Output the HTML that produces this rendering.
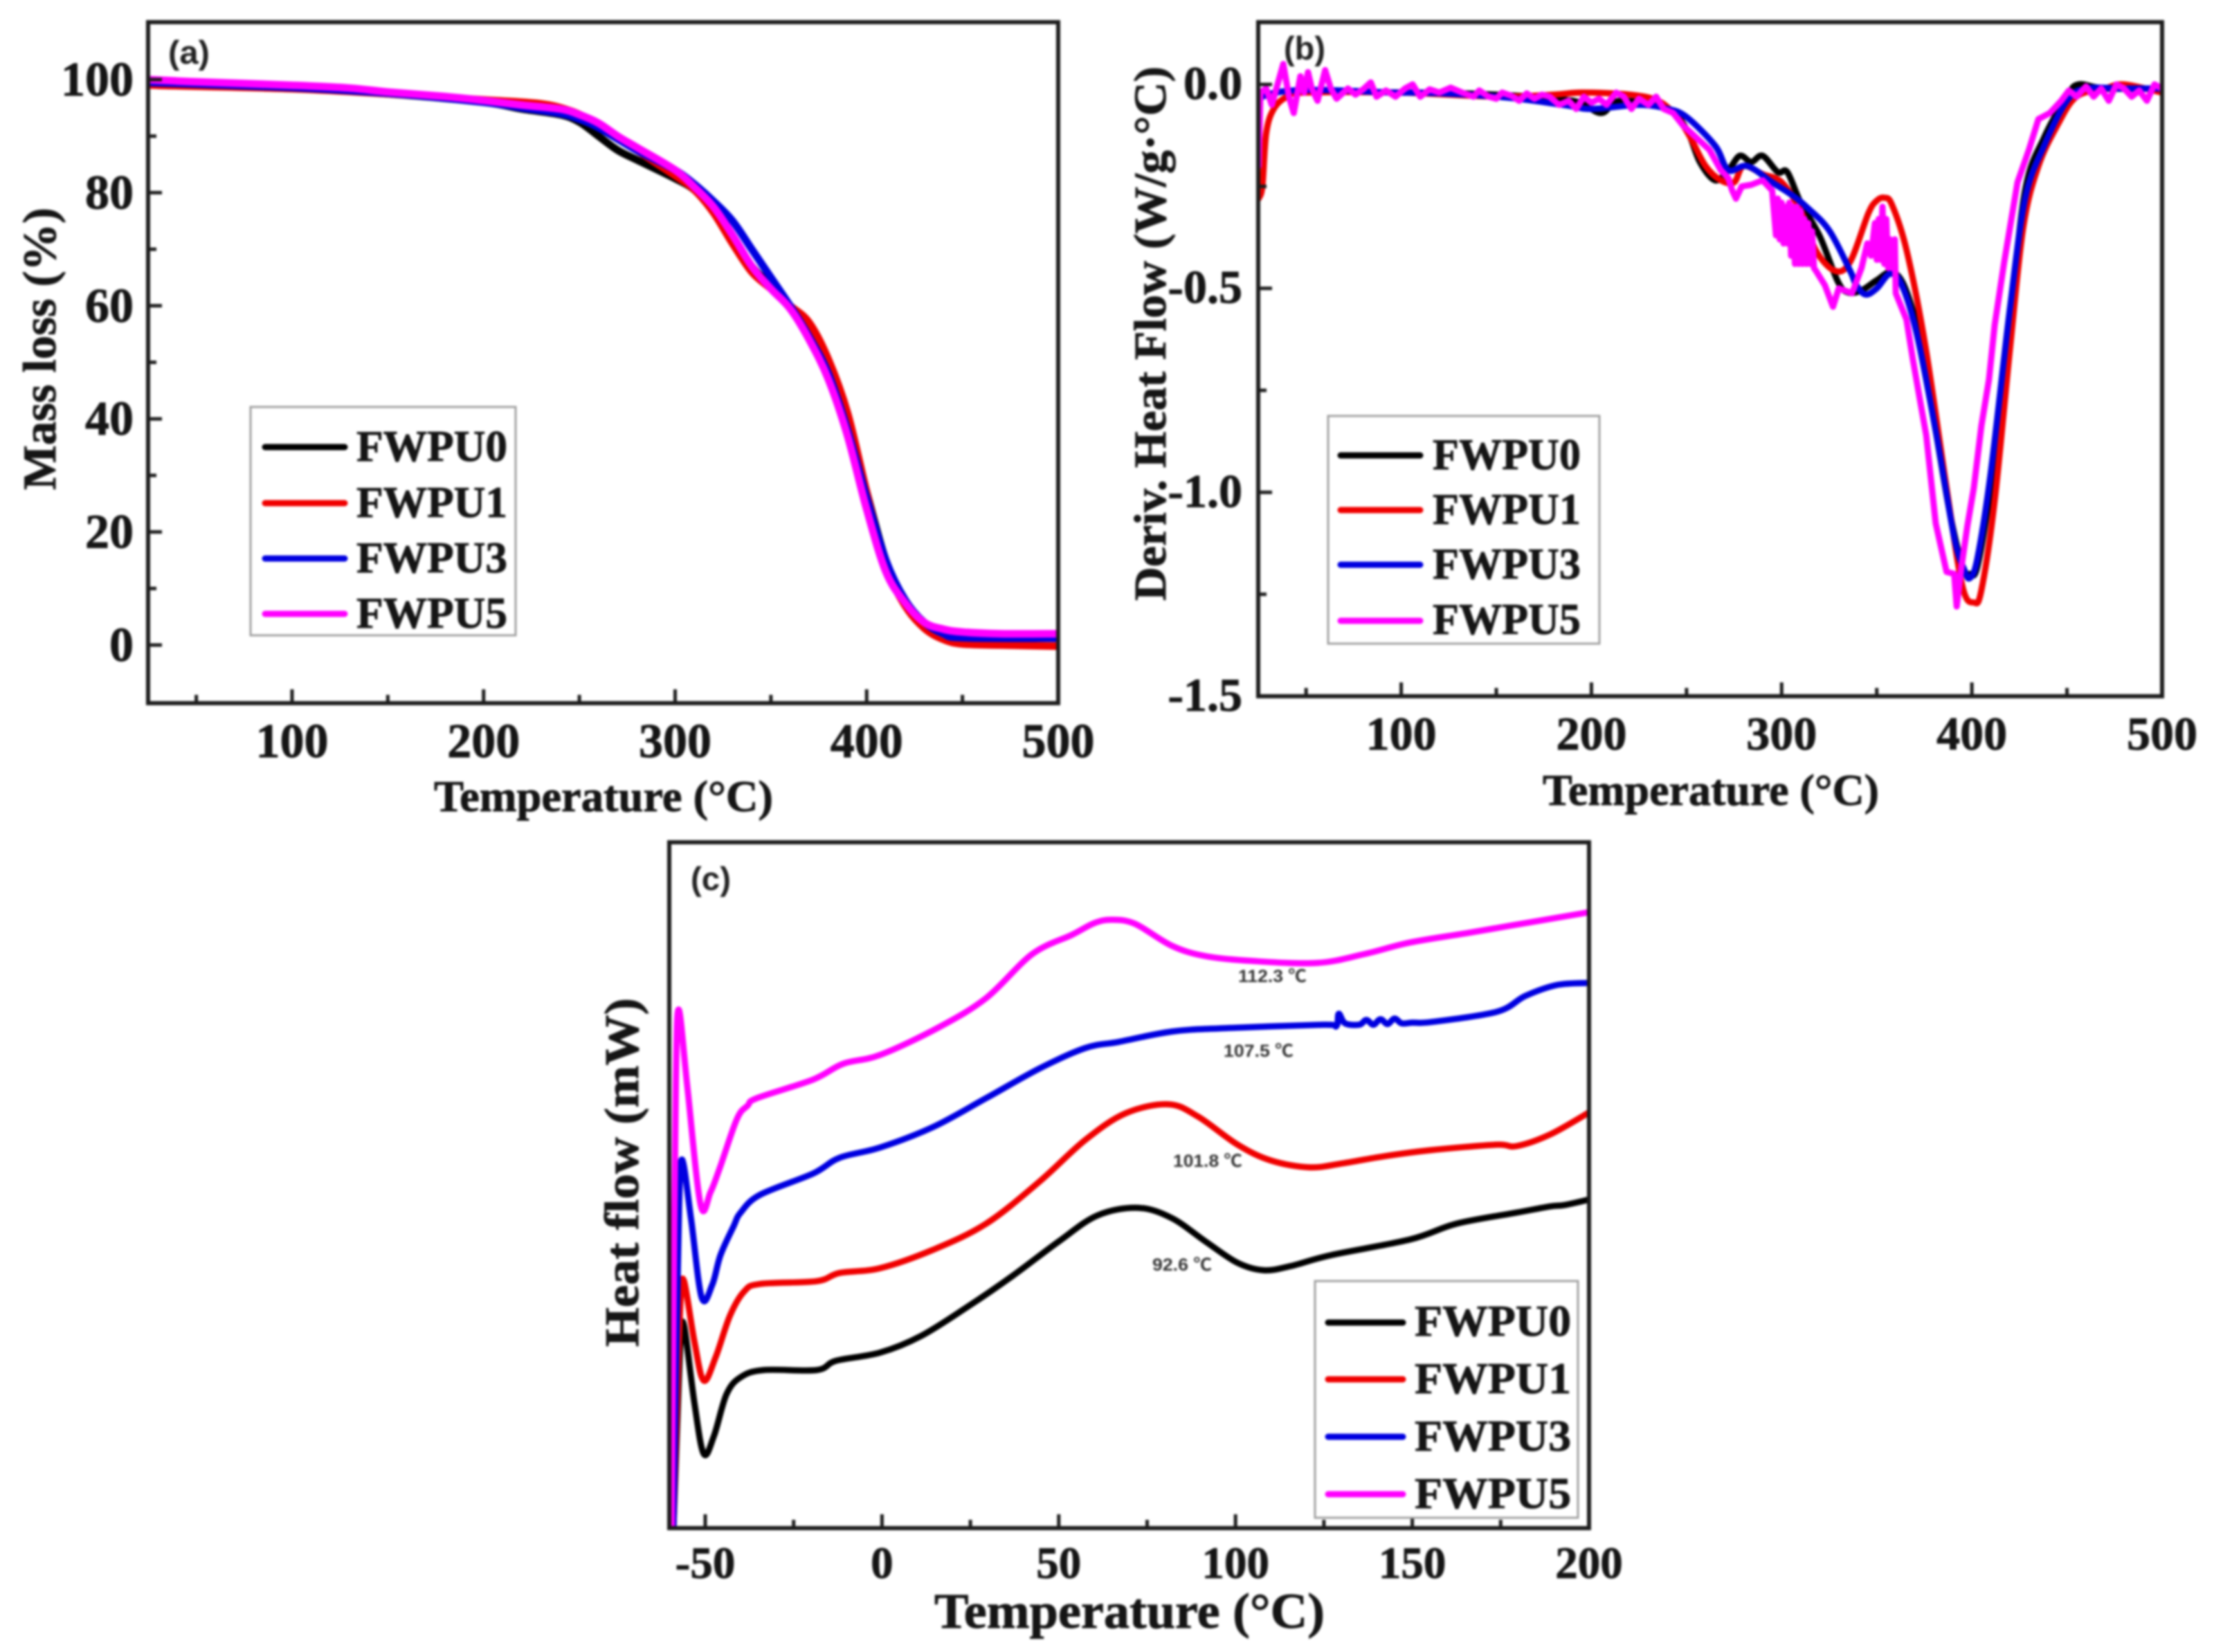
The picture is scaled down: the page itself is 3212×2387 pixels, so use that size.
<!DOCTYPE html>
<html lang="en">
<head>
<meta charset="utf-8">
<title>FWPU thermal analysis</title>
<style>
html,body{margin:0;padding:0;background:#fff;width:3212px;height:2387px;overflow:hidden}
svg{display:block;filter:blur(1.6px)}
text{font-family:"Liberation Serif","Noto Serif CJK SC",serif;font-weight:bold;fill:#151515;stroke:#151515;stroke-width:.9}
.tag{font-family:"Liberation Sans",sans-serif;font-size:47px;fill:#222;stroke-width:0}
.note{font-family:"Liberation Sans","Noto Sans CJK SC",sans-serif;font-size:25px;fill:#333;stroke-width:0}
.frame{fill:none;stroke:#1c1c1c;stroke-width:6}
.legbox{fill:#fff;stroke:#a0a0a0;stroke-width:3}
.legline{stroke-width:9;stroke-linecap:round}
.legtext{font-size:64px}
.axt{font-size:64px}
</style>
</head>
<body>
<svg id="figure" xmlns="http://www.w3.org/2000/svg" width="3212" height="2387" viewBox="0 0 3212 2387">
<defs>
<clipPath id="clip-a"><rect x="214" y="32" width="1315" height="984"/></clipPath>
<clipPath id="clip-b"><rect x="1818" y="32" width="1306" height="974"/></clipPath>
<clipPath id="clip-c"><rect x="967" y="1217" width="1329" height="991"/></clipPath>
</defs>

<g id="panel-a">
<g id="series-a" clip-path="url(#clip-a)"></g>
<g id="ticks-a"></g>
<rect class="frame" x="214" y="32" width="1315" height="984"/>
<text class="tag" x="243" y="92" textLength="60" lengthAdjust="spacingAndGlyphs">(a)</text>
<text class="axt" x="872" y="1172" text-anchor="middle" textLength="490" lengthAdjust="spacingAndGlyphs">Temperature (°C)</text>
<text class="axt" transform="translate(80,504) rotate(-90)" text-anchor="middle" textLength="408" lengthAdjust="spacingAndGlyphs" style="font-size:68px">Mass loss (%)</text>
<g>
<rect class="legbox" x="362" y="588" width="383" height="330"/>
<line class="legline" x1="383" x2="498" y1="646" y2="646" stroke="#000"/>
<text class="legtext" x="515" y="666" textLength="218" lengthAdjust="spacingAndGlyphs">FWPU0</text>
<line class="legline" x1="383" x2="498" y1="727" y2="727" stroke="#f00000"/>
<text class="legtext" x="515" y="747" textLength="218" lengthAdjust="spacingAndGlyphs">FWPU1</text>
<line class="legline" x1="383" x2="498" y1="807" y2="807" stroke="#0000e0"/>
<text class="legtext" x="515" y="827" textLength="218" lengthAdjust="spacingAndGlyphs">FWPU3</text>
<line class="legline" x1="383" x2="498" y1="887" y2="887" stroke="#ff00ff"/>
<text class="legtext" x="515" y="907" textLength="218" lengthAdjust="spacingAndGlyphs">FWPU5</text>
</g>
</g>

<g id="panel-b">
<g id="series-b" clip-path="url(#clip-b)"></g>
<g id="ticks-b"></g>
<rect class="frame" x="1818" y="32" width="1306" height="974"/>
<text class="tag" x="1855" y="86" textLength="60" lengthAdjust="spacingAndGlyphs">(b)</text>
<text class="axt" x="2472" y="1163" text-anchor="middle" textLength="486" lengthAdjust="spacingAndGlyphs">Temperature (°C)</text>
<text class="axt" transform="translate(1684,482) rotate(-90)" text-anchor="middle" textLength="772" lengthAdjust="spacingAndGlyphs" style="font-size:66px">Deriv. Heat Flow (W/g·°C)</text>
<g>
<rect class="legbox" x="1919" y="601" width="392" height="329"/>
<line class="legline" x1="1937" x2="2052" y1="658" y2="658" stroke="#000"/>
<text class="legtext" x="2070" y="678" textLength="214" lengthAdjust="spacingAndGlyphs">FWPU0</text>
<line class="legline" x1="1937" x2="2052" y1="737" y2="737" stroke="#f00000"/>
<text class="legtext" x="2070" y="757" textLength="214" lengthAdjust="spacingAndGlyphs">FWPU1</text>
<line class="legline" x1="1937" x2="2052" y1="816" y2="816" stroke="#0000e0"/>
<text class="legtext" x="2070" y="836" textLength="214" lengthAdjust="spacingAndGlyphs">FWPU3</text>
<line class="legline" x1="1937" x2="2052" y1="897" y2="897" stroke="#ff00ff"/>
<text class="legtext" x="2070" y="916" textLength="214" lengthAdjust="spacingAndGlyphs">FWPU5</text>
</g>
</g>

<g id="panel-c">
<g id="series-c" clip-path="url(#clip-c)"></g>
<g id="ticks-c"></g>
<rect class="frame" x="967" y="1217" width="1329" height="991"/>
<text class="tag" x="998" y="1286" textLength="58" lengthAdjust="spacingAndGlyphs">(c)</text>
<text class="axt" x="1632" y="2352" text-anchor="middle" textLength="564" lengthAdjust="spacingAndGlyphs" style="font-size:72px">Temperature (°C)</text>
<text class="axt" transform="translate(922,1694) rotate(-90)" text-anchor="middle" textLength="504" lengthAdjust="spacingAndGlyphs" style="font-size:70px">Heat flow (mW)</text>
<text class="note" x="1789" y="1419" textLength="99" lengthAdjust="spacingAndGlyphs">112.3 ℃</text>
<text class="note" x="1768" y="1527" textLength="101" lengthAdjust="spacingAndGlyphs">107.5 ℃</text>
<text class="note" x="1695" y="1686" textLength="100" lengthAdjust="spacingAndGlyphs">101.8 ℃</text>
<text class="note" x="1665" y="1836" textLength="86" lengthAdjust="spacingAndGlyphs">92.6 ℃</text>
<g>
<rect class="legbox" x="1900" y="1851" width="380" height="342"/>
<line class="legline" x1="1919" x2="2027" y1="1911" y2="1911" stroke="#000"/>
<text class="legtext" x="2044" y="1930" textLength="226" lengthAdjust="spacingAndGlyphs">FWPU0</text>
<line class="legline" x1="1919" x2="2027" y1="1993" y2="1993" stroke="#f00000"/>
<text class="legtext" x="2044" y="2013" textLength="226" lengthAdjust="spacingAndGlyphs">FWPU1</text>
<line class="legline" x1="1919" x2="2027" y1="2076" y2="2076" stroke="#0000e0"/>
<text class="legtext" x="2044" y="2096" textLength="226" lengthAdjust="spacingAndGlyphs">FWPU3</text>
<line class="legline" x1="1919" x2="2027" y1="2159" y2="2159" stroke="#ff00ff"/>
<text class="legtext" x="2044" y="2179" textLength="226" lengthAdjust="spacingAndGlyphs">FWPU5</text>
</g>
</g>
</svg>

<script>
// ---------- tick values ----------
const xTicksTG = [100,200,300,400,500];
const xMinorTG = [50,150,250,350,450];
const yTicksA = [0,20,40,60,80,100];
const yMinorA = [10,30,50,70,90];
const yTicksB = [0,-0.5,-1,-1.5];
const yTickLabelsB = ['0.0','-0.5','-1.0','-1.5'];
const yMinorB = [-0.25,-0.75,-1.25];
const xTicksC = [-50,0,50,100,150,200];
const xMinorC = [-25,25,75,125,175];

// ---------- panel (a): [temperature, mass %] ----------
const massFWPU0 = [[25,99.5],[50,99],[100,98.5],[150,97.5],[200,96],[220,94.8],[240,93.8],[250,92.5],[260,90],[270,87.5],[280,85.8],[300,82.5],[310,80.5],[320,77],[330,72],[340,67],[350,63.5],[360,60],[370,56],[380,49],[390,39],[400,27],[410,15],[420,8],[430,4],[440,2.5],[450,2],[500,1.8]];
const massFWPU1 = [[25,99.2],[30,99],[100,98.4],[150,97.5],[200,96.4],[230,95.7],[245,94.5],[255,93],[265,91],[280,87.5],[300,83],[310,80.5],[320,76.5],[330,71],[340,66],[350,63],[360,60],[370,57],[380,50.5],[390,41],[400,27],[410,14],[420,7],[430,3],[440,1],[450,0.2],[470,0],[500,-0.2]];
const massFWPU3 = [[25,99.5],[100,98.6],[150,97.6],[200,96],[220,95],[240,94],[250,93],[260,91.5],[280,87.5],[300,84],[310,81.5],[320,78.5],[330,75],[340,70],[350,65],[360,60],[370,54.5],[380,48],[390,38],[400,26],[410,15],[420,8],[430,4],[440,2],[450,1.3],[500,1.2]];
const massFWPU5 = [[25,100],[50,99.6],[100,99],[130,98.5],[150,97.8],[180,97],[200,96.3],[220,95.5],[240,94.8],[250,93.8],[260,92.3],[270,90],[280,88],[300,84],[310,81],[320,77.5],[330,72.5],[340,67],[350,63],[360,59.5],[370,54],[380,47],[390,37],[400,24],[410,13],[420,7.5],[430,4],[440,2.8],[450,2.3],[470,2],[500,2]];

// ---------- panel (b): [temperature, deriv heat flow] ----------
const derivFWPU0 = [[25,-0.2],[27,-0.03],[100,-0.02],[150,-0.025],[190,-0.04],[205,-0.07],[215,-0.04],[240,-0.06],[250,-0.11],[257,-0.19],[265,-0.235],[272,-0.21],[278,-0.175],[284,-0.19],[290,-0.175],[298,-0.215],[303,-0.215],[310,-0.29],[320,-0.372],[329.6,-0.484],[335,-0.51],[342,-0.505],[350,-0.48],[358,-0.46],[365,-0.5],[373,-0.63],[380,-0.82],[388,-1.04],[395,-1.18],[399,-1.2],[403,-1.18],[410,-0.98],[420,-0.58],[428,-0.26],[438,-0.13],[450,-0.03],[456,0],[470,-0.01],[500,-0.01]];
const derivFWPU1 = [[25,-0.28],[27,-0.25],[29,-0.12],[33,-0.06],[40,-0.03],[50,-0.02],[100,-0.02],[150,-0.03],[180,-0.025],[195,-0.02],[220,-0.025],[235,-0.04],[245,-0.08],[252,-0.13],[260,-0.2],[268,-0.235],[275,-0.24],[280,-0.2],[290,-0.22],[300,-0.24],[310,-0.31],[318,-0.407],[328,-0.457],[336,-0.435],[345.6,-0.316],[350,-0.285],[354,-0.278],[358,-0.295],[365.7,-0.407],[375.5,-0.64],[386.7,-0.99],[395,-1.23],[401,-1.27],[405,-1.24],[412,-1.02],[420,-0.65],[427,-0.35],[435,-0.2],[445,-0.1],[455,-0.03],[470,-0.01],[480,0],[500,-0.02]];
const derivFWPU3 = [[25,-0.2],[27,-0.03],[100,-0.02],[150,-0.03],[185,-0.05],[200,-0.06],[225,-0.05],[240,-0.06],[250,-0.08],[265,-0.15],[272,-0.21],[282,-0.2],[295,-0.24],[305,-0.27],[313,-0.3],[325,-0.358],[336,-0.457],[339,-0.49],[344,-0.515],[350,-0.5],[357,-0.464],[363,-0.49],[371,-0.61],[381,-0.85],[390.7,-1.11],[396,-1.19],[399,-1.21],[403,-1.16],[410,-0.95],[420,-0.55],[428,-0.28],[438,-0.15],[450,-0.04],[460,-0.01],[480,-0.01],[500,-0.01]];
const derivFWPU5 = [[25,-0.2],[26,-0.02],[29,-0.01],[32,-0.05],[35,0],[38,0.05],[41,-0.03],[43.5,-0.07],[47,0.02],[49,-0.02],[51,0.03],[53,-0.01],[56,-0.04],[60,0.035],[63,-0.01],[66,-0.035],[72,-0.01],[76,-0.025],[80,-0.012],[84,0.005],[87,-0.03],[92,-0.015],[97,-0.03],[102,-0.01],[106,0],[110,-0.03],[115,-0.012],[120,-0.02],[126,-0.008],[132,-0.02],[138,-0.03],[141,-0.015],[146,-0.03],[150,-0.035],[153,-0.02],[158,-0.028],[162,-0.04],[166,-0.022],[170,-0.035],[174,-0.025],[178,-0.03],[183,-0.05],[188,-0.04],[192,-0.06],[196,-0.03],[200,-0.045],[204,-0.035],[208,-0.05],[213,-0.02],[217,-0.03],[221,-0.06],[225,-0.035],[230,-0.05],[234,-0.03],[238,-0.06],[243,-0.07],[248,-0.1],[255,-0.13],[262,-0.16],[268,-0.21],[272,-0.23],[274,-0.26],[276,-0.28],[279,-0.25],[284,-0.246],[290,-0.235],[295,-0.26],[297,-0.37],[298,-0.28],[299,-0.38],[300,-0.29],[301,-0.39],[302,-0.3],[303,-0.39],[304,-0.29],[305,-0.42],[306,-0.3],[307,-0.44],[308,-0.3],[309,-0.44],[310,-0.31],[311,-0.44],[312,-0.33],[313,-0.44],[314,-0.34],[315,-0.44],[316,-0.36],[317,-0.45],[318,-0.457],[322.7,-0.492],[327,-0.545],[330,-0.5],[337,-0.512],[342,-0.45],[345,-0.39],[347,-0.42],[349,-0.34],[350,-0.43],[351,-0.33],[352,-0.43],[353,-0.3],[354,-0.44],[355,-0.33],[356,-0.45],[357,-0.38],[358,-0.45],[359.5,-0.38],[360,-0.512],[365.6,-0.576],[369,-0.674],[372.7,-0.773],[376,-0.86],[381,-1.076],[386.7,-1.195],[390.7,-1.2],[392,-1.28],[394.3,-1.19],[397.6,-1.083],[401,-0.99],[405,-0.837],[409,-0.723],[412,-0.59],[417,-0.435],[424,-0.24],[430,-0.16],[435,-0.085],[441,-0.07],[447,-0.04],[451,-0.015],[455,-0.03],[460,-0.005],[464,-0.03],[468,-0.01],[472,-0.04],[476,0],[480,-0.01],[484,-0.03],[488,-0.015],[492,-0.04],[496,0],[500,-0.01]];

// ---------- panel (c): [temperature, relative heat flow] ----------
const dscFWPU0 = [[-59,0],[-58,14],[-57,27],[-56,29.5],[-53,18],[-50.4,10.8],[-47.5,13.5],[-44,19.5],[-40,22],[-33.5,23.05],[-18.5,23.05],[-13,24.4],[-0.5,25.6],[11,28],[24,32.2],[37,36.8],[50,41.8],[61,45.6],[72.5,46.7],[82,45.2],[91.5,41.8],[100.5,38.7],[108,37.6],[115.6,38.2],[127,39.8],[149.5,42.1],[162.6,44.4],[179.5,46],[189,46.9],[193,47.1],[200,47.9]];
const dscFWPU1 = [[-59,0],[-58,18],[-57,33],[-56,36],[-53,27],[-50.4,21.5],[-47,25],[-43,31],[-39,34.5],[-34.5,35.6],[-18.5,36],[-12,37.2],[-0.5,37.9],[14.5,40.6],[29.5,44.4],[44.5,50.5],[57.5,56.6],[69,60.5],[81,61.8],[89.4,60],[100.6,55.9],[110,53.6],[121,52.6],[130.5,53.2],[141.8,54.2],[155,55.1],[173.7,55.9],[179.5,55.7],[189,57.4],[200,60.6]];
const dscFWPU3 = [[-59,0],[-58.2,25],[-57.4,47],[-56.5,53.7],[-54,45],[-51,33.6],[-48,35.5],[-45.7,39.8],[-42,44],[-40,46],[-34.5,48.6],[-19.5,51.7],[-12,54],[-0.5,55.5],[14.5,58.5],[29.5,62.7],[44.5,67],[57.5,70],[67,70.9],[82,72.4],[97,72.9],[125,73.4],[128.5,73.2],[129.2,75],[131,73.6],[135,73.4],[137,74.1],[139,73.4],[141,74.2],[143,73.5],[145,74.3],[147,73.6],[150,73.7],[155.6,73.8],[174,75.3],[182,77.6],[191,79.2],[200,79.5]];
const dscFWPU5 = [[-59.5,0],[-59,30],[-58.3,65],[-57.5,75.6],[-55,64],[-51.3,47.1],[-48.5,49],[-45.7,52.8],[-41,59.7],[-38,61.6],[-35.3,62.7],[-19.5,65.4],[-11,67.7],[-0.5,69],[16,73],[29.5,77.3],[42.5,83.7],[53.7,86.5],[60,88.2],[65,88.7],[71.6,88.1],[82,84.9],[91.5,83.4],[104.5,82.7],[123,82.4],[136.5,83.7],[149.5,85.4],[166,86.8],[183,88.3],[200,89.8]];

const COLORS = ['#000000','#f00000','#0000e0','#ff00ff'];
const NS = 'http://www.w3.org/2000/svg';

function scale(d0,d1,r0,r1){ return v => r0 + (v-d0)*(r1-r0)/(d1-d0); }

function smoothPath(pts){
  let d = 'M'+pts[0][0].toFixed(1)+' '+pts[0][1].toFixed(1);
  for(let i=0;i<pts.length-1;i++){
    const p0=pts[Math.max(i-1,0)],p1=pts[i],p2=pts[i+1],p3=pts[Math.min(i+2,pts.length-1)];
    const c1x=p1[0]+(p2[0]-p0[0])/6,c1y=p1[1]+(p2[1]-p0[1])/6;
    const c2x=p2[0]-(p3[0]-p1[0])/6,c2y=p2[1]-(p3[1]-p1[1])/6;
    d+=' C'+c1x.toFixed(1)+' '+c1y.toFixed(1)+' '+c2x.toFixed(1)+' '+c2y.toFixed(1)+' '+p2[0].toFixed(1)+' '+p2[1].toFixed(1);
  }
  return d;
}
function linearPath(pts){
  return 'M'+pts.map(p=>p[0].toFixed(1)+' '+p[1].toFixed(1)).join(' L');
}

function drawSeries(groupId,seriesList,names,xs,ys,lw,linearLast){
  const g=document.getElementById(groupId);
  seriesList.forEach((data,i)=>{
    const pts=data.map(p=>[xs(p[0]),ys(p[1])]);
    const path=document.createElementNS(NS,'path');
    path.setAttribute('d',(linearLast&&i===seriesList.length-1)?linearPath(pts):smoothPath(pts));
    path.setAttribute('fill','none');
    path.setAttribute('stroke',COLORS[i]);
    path.setAttribute('stroke-width',lw);
    path.setAttribute('stroke-linejoin','round');
    path.setAttribute('stroke-linecap','round');
    
    
    g.appendChild(path);
  });
}

function addTick(g,x1,y1,x2,y2,name){
  const l=document.createElementNS(NS,'line');
  l.setAttribute('x1',x1);l.setAttribute('y1',y1);l.setAttribute('x2',x2);l.setAttribute('y2',y2);
  l.setAttribute('stroke','#1c1c1c');l.setAttribute('stroke-width',5);
  
  
  g.appendChild(l);
}
function addLabel(g,x,y,anchor,size,str,name){
  const t=document.createElementNS(NS,'text');
  t.setAttribute('x',x);t.setAttribute('y',y);t.setAttribute('text-anchor',anchor);
  t.setAttribute('font-size',size);
  t.textContent=str;
  
  
  g.appendChild(t);
}

function drawXAxis(groupId,ticks,minor,xs,bottom,baseline,size){
  const g=document.getElementById(groupId);
  ticks.forEach(v=>{
    addTick(g,xs(v),bottom,xs(v),bottom-20,'x-major-tick');
    addLabel(g,xs(v),baseline,'middle',size,String(v),'x-tick-label');
  });
  minor.forEach(v=>addTick(g,xs(v),bottom,xs(v),bottom-12,'x-minor-tick'));
}
function drawYAxis(groupId,ticks,labels,minor,ys,left,labelRight,size,dy){
  const g=document.getElementById(groupId);
  ticks.forEach((v,i)=>{
    addTick(g,left,ys(v),left+20,ys(v),'y-major-tick');
    addLabel(g,labelRight,ys(v)+dy,'end',size,labels[i],'y-tick-label');
  });
  minor.forEach(v=>addTick(g,left,ys(v),left+12,ys(v),'y-minor-tick'));
}

const seriesNames=['fwpu0','fwpu1','fwpu3','fwpu5'];

// panel a
const xA=scale(100,500,422,1529), yA=scale(0,100,932,115);
drawSeries('series-a',[massFWPU0,massFWPU1,massFWPU3,massFWPU5],seriesNames,xA,yA,11,false);
drawXAxis('ticks-a',xTicksTG,xMinorTG,xA,1016,1094,70);
drawYAxis('ticks-a',yTicksA,yTicksA.map(String),yMinorA,yA,214,193,70,23);

// panel b
const xB=scale(100,500,2024.6,3124), yB=scale(0,-1.5,122,1006);
drawSeries('series-b',[derivFWPU0,derivFWPU1,derivFWPU3,derivFWPU5],seriesNames,xB,yB,9,true);
drawXAxis('ticks-b',xTicksTG,xMinorTG,xB,1006,1083,68);
drawYAxis('ticks-b',yTicksB,yTickLabelsB,yMinorB,yB,1818,1795,68,21);

// panel c
const xC=scale(-50,200,1019,2296), yC=scale(0,100,2208,1217);
drawSeries('series-c',[dscFWPU0,dscFWPU1,dscFWPU3,dscFWPU5],seriesNames,xC,yC,9,false);
drawXAxis('ticks-c',xTicksC,xMinorC,xC,2208,2280,65);
</script>
</body>
</html>
